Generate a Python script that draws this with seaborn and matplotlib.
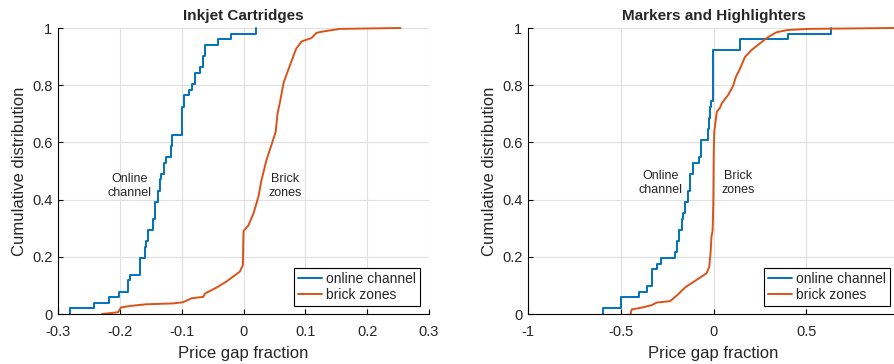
import matplotlib
matplotlib.use("Agg")
import matplotlib.pyplot as plt
import seaborn as sns
from matplotlib.ticker import FuncFormatter, FixedLocator

# ---- data -------------------------------------------------------------
panel_titles = ["Inkjet Cartridges", "Markers and Highlighters"]
series_labels = ["online channel", "brick zones"]

# online channel: per-product price gap fractions (empirical CDF)
online_inkjet = [
    -0.280, -0.242, -0.218, -0.202, -0.187, -0.186, -0.184,
    -0.167, -0.167, -0.167, -0.160, -0.160, -0.157, -0.155, -0.155,
    -0.147, -0.147, -0.143, -0.143, -0.143, -0.138, -0.138,
    -0.135, -0.135, -0.134, -0.128, -0.128, -0.126, -0.118, -0.118,
    -0.116, -0.116, -0.100, -0.100, -0.100, -0.099, -0.099,
    -0.097, -0.097, -0.0875, -0.084, -0.078, -0.078, -0.071,
    -0.066, -0.066, -0.062, -0.062, -0.041, -0.020, 0.020,
]
online_markers = [
    -0.598, -0.499, -0.499, -0.400, -0.357, -0.330, -0.330, -0.330,
    -0.306, -0.285, -0.207, -0.197, -0.197, -0.186, -0.186,
    -0.172, -0.172, -0.165, -0.152, -0.152, -0.137, -0.137,
    -0.127, -0.127, -0.127, -0.110, -0.110, -0.080,
    -0.065, -0.065, -0.065, -0.032, -0.032, -0.025, -0.025,
    -0.020, -0.020, -0.013, -0.005, -0.005, -0.005,
    -0.001, -0.001, -0.001, -0.001, -0.001, -0.001,
    0.142, 0.142, 0.403, 0.631,
]

# brick zones: cumulative distribution curve (price gap, cumulative share)
brick_inkjet_gap = [
    -0.229, -0.203, -0.198, -0.184, -0.157, -0.114, -0.098, -0.084,
    -0.065, -0.062, -0.044, -0.028, -0.006, -0.001, 0.000, 0.008,
    0.016, 0.024, 0.029, 0.037, 0.045, 0.052, 0.055, 0.059, 0.065,
    0.072, 0.078, 0.085, 0.094, 0.110, 0.118, 0.129, 0.156, 0.254,
]
brick_inkjet_cdf = [
    0.000, 0.006, 0.023, 0.028, 0.034, 0.037, 0.041, 0.055,
    0.060, 0.072, 0.092, 0.113, 0.148, 0.171, 0.290, 0.310,
    0.351, 0.409, 0.467, 0.537, 0.590, 0.636, 0.700, 0.741, 0.810,
    0.851, 0.886, 0.927, 0.953, 0.965, 0.983, 0.988, 0.997, 1.000,
]
brick_markers_gap = [
    -0.447, -0.441, -0.382, -0.333, -0.306, -0.234, -0.195, -0.153,
    -0.092, -0.038, -0.023, -0.016, -0.011, -0.005, -0.001, 0.001,
    0.004, 0.018, 0.034, 0.045, 0.079, 0.097, 0.107, 0.120, 0.143,
    0.170, 0.205, 0.250, 0.289, 0.339, 0.400, 0.520, 0.970,
]
brick_markers_cdf = [
    0.000, 0.016, 0.023, 0.031, 0.040, 0.045, 0.066, 0.093,
    0.119, 0.142, 0.165, 0.212, 0.270, 0.290, 0.387, 0.550,
    0.637, 0.707, 0.720, 0.737, 0.766, 0.787, 0.800, 0.828, 0.858,
    0.899, 0.923, 0.946, 0.966, 0.985, 0.993, 0.997, 1.000,
]

x_limits = [(-0.3, 0.3), (-1.0, 1.0)]
x_ticks = [[-0.3, -0.2, -0.1, 0.0, 0.1, 0.2, 0.3], [-1.0, -0.5, 0.0, 0.5]]
y_ticks = [0.0, 0.2, 0.4, 0.6, 0.8, 1.0]
note_pos = [((-0.185, 0.448), (0.067, 0.448)), ((-0.288, 0.458), (0.134, 0.458))]
note_text = ["Online\nchannel", "Brick\nzones"]

# ---- style ------------------------------------------------------------
BLUE = "#0072BD"
ORANGE = "#D95319"
TEXT = "#262626"

sns.set_theme(style="ticks")
plt.rcParams.update({
    "font.family": ["Liberation Sans", "DejaVu Sans"],
    "axes.unicode_minus": False,
    "axes.edgecolor": "black",
    "axes.linewidth": 0.8,
    "xtick.direction": "in",
    "ytick.direction": "in",
    "xtick.major.size": 3.5,
    "ytick.major.size": 3.5,
    "xtick.major.width": 0.8,
    "ytick.major.width": 0.8,
    "xtick.color": "black",
    "ytick.color": "black",
    "xtick.labelcolor": TEXT,
    "ytick.labelcolor": TEXT,
    "xtick.labelsize": 10.5,
    "ytick.labelsize": 10.5,
})

fig = plt.figure(figsize=(8.94, 3.64), dpi=100)
W, H = 894, 364
ax_w, ax_h = 371, 286
lefts = [58, 528]
top = 28

online_sets = [online_inkjet, online_markers]
brick_sets = [(brick_inkjet_gap, brick_inkjet_cdf), (brick_markers_gap, brick_markers_cdf)]

fmt = FuncFormatter(lambda v, _: "%g" % round(v, 3))

for i in range(2):
    ax = fig.add_axes([lefts[i] / W, (H - top - ax_h) / H, ax_w / W, ax_h / H])
    ax.set_axisbelow(True)
    ax.grid(True, color="#e0e0e0", linewidth=0.8)

    sns.ecdfplot(x=online_sets[i], ax=ax, color=BLUE, linewidth=1.4,
                 label=series_labels[0])
    gx, gy = brick_sets[i]
    sns.lineplot(x=gx, y=gy, ax=ax, color=ORANGE, linewidth=1.4,
                 sort=False, estimator=None, label=series_labels[1])
    for line in ax.get_lines():
        line.set_clip_on(False)

    ax.set_xlim(*x_limits[i])
    ax.set_ylim(0, 1)
    ax.xaxis.set_major_locator(FixedLocator(x_ticks[i]))
    ax.yaxis.set_major_locator(FixedLocator(y_ticks))
    ax.xaxis.set_major_formatter(fmt)
    ax.yaxis.set_major_formatter(fmt)
    ax.tick_params(axis="x", pad=8)
    ax.tick_params(axis="y", pad=4)
    for side in ("top", "right"):
        ax.spines[side].set_visible(False)

    ax.set_title(panel_titles[i], fontsize=11, fontweight="bold", pad=6)
    ax.set_xlabel("Price gap fraction", fontsize=12, labelpad=5, color=TEXT)
    ax.set_ylabel("Cumulative distribution", fontsize=12, labelpad=4, color=TEXT)

    for (px, py), txt in zip(note_pos[i], note_text):
        ax.text(px, py, txt, ha="center", va="center", fontsize=9,
                color=TEXT, linespacing=1.15)

    leg = ax.legend(loc="lower right", bbox_to_anchor=(0.976, 0.028),
                    borderaxespad=0, frameon=True, fancybox=False,
                    edgecolor="black", framealpha=1, fontsize=10,
                    handlelength=1.7, handletextpad=0.3, borderpad=0.3,
                    labelspacing=0.15)
    leg.get_frame().set_linewidth(0.8)

fig.savefig("out.png", dpi=100)
